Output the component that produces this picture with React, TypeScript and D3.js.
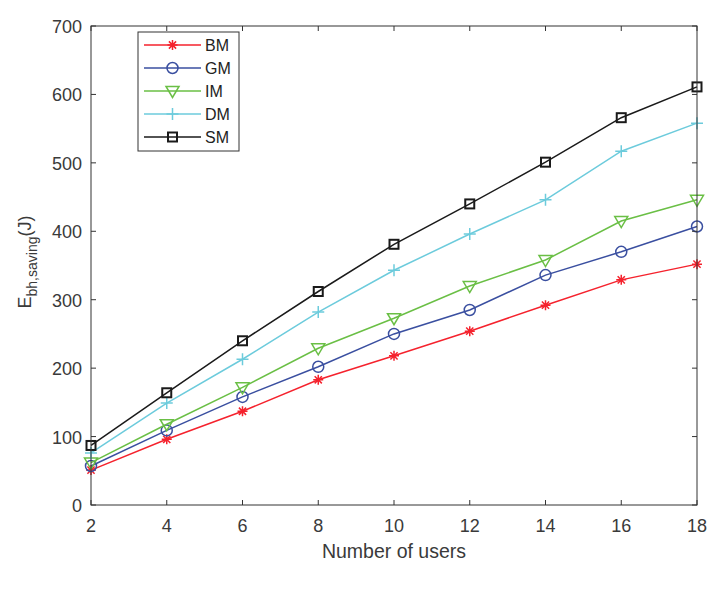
import React from "react";
import * as d3 from "d3";

const users = [2, 4, 6, 8, 10, 12, 14, 16, 18];
const BM = [51, 96, 137, 183, 218, 254, 292, 329, 352];
const GM = [57, 109, 158, 202, 250, 285, 336, 370, 407];
const IM = [62, 118, 172, 229, 273, 320, 358, 415, 446];
const DM = [76, 149, 213, 282, 343, 396, 446, 517, 558];
const SM = [87, 164, 240, 312, 381, 440, 501, 566, 611];
const xTicks = [2, 4, 6, 8, 10, 12, 14, 16, 18];
const yTicks = [0, 100, 200, 300, 400, 500, 600, 700];

const series = [
  { name: "BM", values: BM, color: "#f5222d", marker: "star" },
  { name: "GM", values: GM, color: "#3a4fa0", marker: "circle" },
  { name: "IM", values: IM, color: "#6abf45", marker: "triangle" },
  { name: "DM", values: DM, color: "#6ccbdc", marker: "plus" },
  { name: "SM", values: SM, color: "#1a1a1a", marker: "square" },
];

const L = 91, R = 697, T = 26, B = 505;
const FONT = "Liberation Sans, Arial, sans-serif";
const TXT = "#3a3a3a";

function Marker({ type, x, y, color }: { type: string; x: number; y: number; color: string }) {
  const sw = 1.5;
  if (type === "circle") return <circle cx={x} cy={y} r={5.5} fill="none" stroke={color} strokeWidth={sw} />;
  if (type === "square") return <rect x={x - 4.5} y={y - 4.5} width={9} height={9} fill="none" stroke={color} strokeWidth={2} />;
  if (type === "triangle") return <path d={`M${x - 6.5},${y - 4.5}L${x + 6.5},${y - 4.5}L${x},${y + 6.5}Z`} fill="none" stroke={color} strokeWidth={sw} />;
  if (type === "plus") return <path d={`M${x - 6},${y}L${x + 6},${y}M${x},${y - 6}L${x},${y + 6}`} stroke={color} strokeWidth={sw} />;
  const s = 5;
  const d = 3.6;
  return <path d={`M${x - s},${y}L${x + s},${y}M${x},${y - s}L${x},${y + s}M${x - d},${y - d}L${x + d},${y + d}M${x - d},${y + d}L${x + d},${y - d}`} stroke={color} strokeWidth={sw} />;
}

export default function App() {
  const x = d3.scaleLinear().domain([2, 18]).range([L, R]);
  const y = d3.scaleLinear().domain([0, 700]).range([B, T]);
  const line = d3.line<number>().x((_, i) => x(users[i])).y((v) => y(v));
  const tick = 5;
  return (
    <svg width={726} height={595} style={{ position: "absolute", left: 0, top: 0, background: "#fff" }}>
      <rect x={0} y={0} width={726} height={595} fill="#fff" />
      {series.map((s) => (
        <g key={s.name}>
          <path d={line(s.values) || ""} fill="none" stroke={s.color} strokeWidth={1.5} />
          {s.values.map((v, i) => (
            <Marker key={i} type={s.marker} x={x(users[i])} y={y(v)} color={s.color} />
          ))}
        </g>
      ))}
      <rect x={L} y={T} width={R - L} height={B - T} fill="none" stroke="#333" strokeWidth={1} />
      {xTicks.map((t) => (
        <g key={t}>
          <line x1={x(t)} x2={x(t)} y1={B} y2={B - tick} stroke="#333" />
          <line x1={x(t)} x2={x(t)} y1={T} y2={T + tick} stroke="#333" />
          <text x={x(t)} y={B + 27} textAnchor="middle" fontSize={18} fontFamily={FONT} fill={TXT}>{t}</text>
        </g>
      ))}
      {yTicks.map((t) => (
        <g key={t}>
          <line x1={L} x2={L + tick} y1={y(t)} y2={y(t)} stroke="#333" />
          <line x1={R} x2={R - tick} y1={y(t)} y2={y(t)} stroke="#333" />
          <text x={L - 9} y={y(t) + 7} textAnchor="end" fontSize={18} fontFamily={FONT} fill={TXT}>{t}</text>
        </g>
      ))}
      <text x={(L + R) / 2} y={558} textAnchor="middle" fontSize={19.5} fontFamily={FONT} fill={TXT}>Number of users</text>
      <text transform="translate(31,262) rotate(-90)" textAnchor="middle" fontSize={18} fontFamily={FONT} fill={TXT}>
        E<tspan fontSize={14} dy={6}>bh,saving</tspan><tspan dy={-6}>(J)</tspan>
      </text>
      <g>
        <rect x={138} y={32} width={101} height={119} fill="#fff" stroke="#333" strokeWidth={1} />
        {series.map((s, i) => {
          const ly = 45 + i * 23;
          return (
            <g key={s.name}>
              <line x1={144} x2={201} y1={ly} y2={ly} stroke={s.color} strokeWidth={1.5} />
              <Marker type={s.marker} x={172.5} y={ly} color={s.color} />
              <text x={205} y={ly + 6} fontSize={16} fontFamily={FONT} fill="#222">{s.name}</text>
            </g>
          );
        })}
      </g>
    </svg>
  );
}
